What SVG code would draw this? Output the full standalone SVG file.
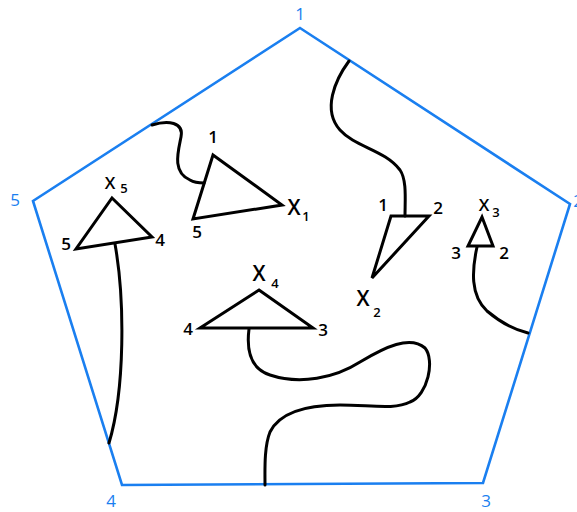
<svg xmlns="http://www.w3.org/2000/svg" width="577" height="512" viewBox="0 0 577 512">
<style>
.pent{fill:none;stroke:#1a7ff0;stroke-width:2.6;stroke-linejoin:miter}
.blab{fill:#1a7ff0;font-family:"Open Sans","Liberation Sans",Arial,sans-serif;font-size:17px;text-anchor:middle}
.tri{fill:none;stroke:#000;stroke-width:3;stroke-linejoin:miter}
.con{fill:none;stroke:#000;stroke-width:3;stroke-linecap:round}
.lab{fill:#000;font-family:"Open Sans","Liberation Sans",Arial,sans-serif;font-weight:600;font-size:17px;text-anchor:middle}
.big{fill:#000;font-family:"Open Sans","Liberation Sans",Arial,sans-serif;font-weight:600;font-size:21px;text-anchor:middle}
.sub{fill:#000;font-family:"Open Sans","Liberation Sans",Arial,sans-serif;font-weight:600;font-size:13px;text-anchor:middle}
</style>
<rect width="577" height="512" fill="#fff"/>
<g id="pentagon">
<polygon class="pent" points="300,28 570,204 483,483 122,485 33,201"/>
<text class="blab" x="300" y="20">1</text>
<text class="blab" x="578" y="207">2</text>
<text class="blab" x="486" y="507">3</text>
<text class="blab" x="111" y="507">4</text>
<text class="blab" x="15" y="206">5</text>
</g>
<g id="connectors">
<path class="con" d="M152,125 C168,120 184,122 181,137 C178,152 172,172 190,180 C195,183 200,183 204,183"/>
<path class="con" d="M349,61 C335,80 322,110 340,130 C355,147 385,150 400,170 C407,180 405,200 405,216"/>
<path class="con" d="M477,247 C472,270 470,295 487,311 C500,322 515,330 528,333"/>
<path class="con" d="M115,244 C125,300 125,390 109,443"/>
<path class="con" d="M249,329 C247,345 248,368 270,375 C300,385 335,378 360,362 C385,347 410,335 425,348 C435,360 428,395 410,402 C395,410 370,405 340,405 C305,405 280,412 270,432 C264,447 265,470 265,485"/>
</g>
<g id="X1">
<polygon class="tri" points="213,155 282,205 193,219"/>
<text class="lab" x="213" y="143">1</text>
<text class="lab" x="197" y="238">5</text>
<text class="big" x="294" y="215">X</text>
<text class="sub" x="306" y="221">1</text>
</g>
<g id="X2">
<polygon class="tri" points="391,216 429,216 372,278"/>
<text class="lab" x="383" y="211">1</text>
<text class="lab" x="438" y="214">2</text>
<text class="big" x="363" y="306">X</text>
<text class="sub" x="377" y="317">2</text>
</g>
<g id="X3">
<polygon class="tri" points="482,217 493,246 468,246"/>
<text class="lab" x="484" y="211">X</text>
<text class="sub" x="496" y="217">3</text>
<text class="lab" x="456" y="259">3</text>
<text class="lab" x="504" y="259">2</text>
</g>
<g id="X4">
<polygon class="tri" points="259,290 313,328 200,328"/>
<text class="big" x="259" y="281">X</text>
<text class="sub" x="275" y="288">4</text>
<text class="lab" x="188" y="335">4</text>
<text class="lab" x="323" y="336">3</text>
</g>
<g id="X5">
<polygon class="tri" points="112,198 152,237 76,249"/>
<text class="lab" x="110" y="189">X</text>
<text class="sub" x="124" y="193">5</text>
<text class="lab" x="66" y="250">5</text>
<text class="lab" x="160" y="246">4</text>
</g>
</svg>
